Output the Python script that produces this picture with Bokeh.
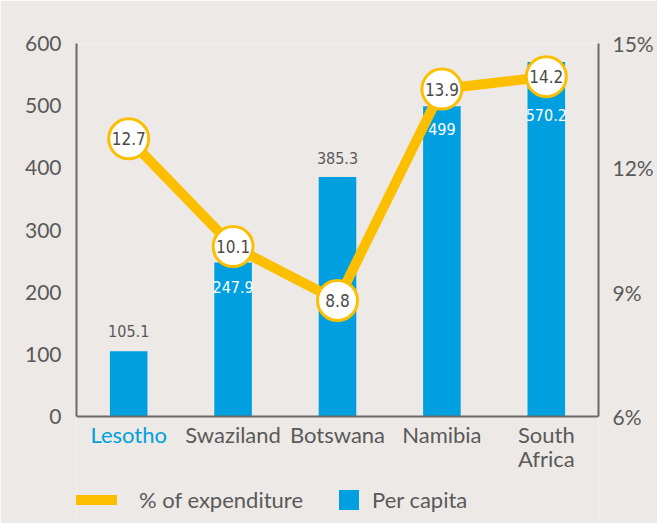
from bokeh.plotting import figure
from bokeh.models import (ColumnDataSource, FactorRange, Range1d, LinearAxis, FixedTicker,
                          PrintfTickFormatter, Legend, LegendItem, Span)
from bokeh.core.properties import value
from bokeh.embed import file_html
from bokeh.resources import INLINE

# ---- data ----
countries = ["Lesotho", "Swaziland", "Botswana", "Namibia", "South Africa"]
per_capita = [105.1, 247.9, 385.3, 499, 570.2]
pct_expenditure = [12.7, 10.1, 8.8, 13.9, 14.2]
left_ticks = [0, 100, 200, 300, 400, 500, 600]
right_ticks = [6, 9, 12, 15]
left_max, right_min, right_max = 600, 6, 15

# ---- styles / layout ----
BG = "#ede9e6"
BLUE = "#00a0e0"
YELLOW = "#fcbf00"
GRAY = "#5a5a5a"
AXIS = "#6b6b6b"
NARROW = "DejaVu Sans Condensed"

W, H = 657, 523
TOP, PLOT_H = 43, 373          # px from top to the 600 line, px height of the 0..600 band
FRAME_H = H - TOP              # frame reaches the bottom so texts below the axis are not clipped
ymin = -(FRAME_H - PLOT_H) * left_max / PLOT_H
pct_min = right_min + ymin / left_max * (right_max - right_min)

bar_label_color = [GRAY, "white", GRAY, "white", "white"]
bar_label_offset = [-20, 25, -19, 23, 53]
cat_label_color = [BLUE, GRAY, GRAY, GRAY, GRAY]

p = figure(width=W, height=H, x_range=FactorRange(*countries, range_padding=0),
           y_range=Range1d(ymin, left_max), output_backend="svg", toolbar_location=None,
           min_border_left=76, min_border_right=59, min_border_top=TOP, min_border_bottom=0)
p.extra_y_ranges = {"pct": Range1d(pct_min, right_max)}
p.background_fill_color = BG
p.border_fill_color = BG
p.outline_line_color = None
p.grid.grid_line_color = None
p.xaxis.visible = False

# left axis
la = p.yaxis[0]
la.ticker = FixedTicker(ticks=left_ticks)
la.bounds = (0, left_max)

# right axis
ra = LinearAxis(y_range_name="pct", ticker=FixedTicker(ticks=right_ticks),
                formatter=PrintfTickFormatter(format="%d%%"), bounds=(right_min, right_max))
p.add_layout(ra, "right")

for ax, standoff in [(la, 9), (ra, 8)]:
    ax.axis_line_color = AXIS
    ax.axis_line_width = 2
    ax.major_tick_line_color = None
    ax.minor_tick_line_color = None
    ax.major_label_text_font = "Lato"
    ax.major_label_text_font_size = "21px"
    ax.major_label_text_color = GRAY
    ax.major_label_standoff = standoff

# bottom axis line at 0
p.add_layout(Span(location=0, dimension="width", line_color=AXIS, line_width=2))

src = ColumnDataSource(dict(
    country=countries, per_capita=per_capita, pct=pct_expenditure,
    bar_text=[f"{v:g}" for v in per_capita], bar_color=bar_label_color,
    bar_off=bar_label_offset, pct_text=[f"{v:.1f}" for v in pct_expenditure],
    cat_text=[c.replace(" ", "\n") for c in countries], cat_color=cat_label_color,
    zero=[0] * len(countries),
))

bars = p.vbar(x="country", top="per_capita", bottom=0, width=0.36, source=src,
              fill_color=BLUE, line_color=None)
p.text(x="country", y="per_capita", text="bar_text", y_offset="bar_off", source=src,
       text_color="bar_color", text_font=value(NARROW), text_font_size="16px",
       text_align="center", text_baseline="middle")

line = p.line(x="country", y="pct", y_range_name="pct", source=src, line_color=YELLOW, line_width=10)
p.scatter(x="country", y="pct", y_range_name="pct", source=src, size=40,
          fill_color="white", line_color=YELLOW, line_width=3)
p.text(x="country", y="pct", text="pct_text", y_range_name="pct", source=src,
       text_color="#4a4a4a", text_font=value(NARROW), text_font_size="17px",
       text_align="center", text_baseline="middle")

# category labels
p.text(x="country", y="zero", text="cat_text", source=src, y_offset=4,
       text_color="cat_color", text_font=value("Lato"), text_font_size="22px",
       text_align="center", text_baseline="top", text_line_height=0.92)

leg_common = dict(glyph_height=25, label_height=25, padding=0, margin=0, border_line_color=None,
                  background_fill_alpha=0, label_text_font="Lato", label_text_font_size="22px",
                  label_text_color=GRAY)
leg1 = Legend(items=[LegendItem(label="% of expenditure", renderers=[line])],
              location=(-4, 10), glyph_width=45, label_standoff=22, **leg_common)
leg2 = Legend(items=[LegendItem(label="Per capita", renderers=[bars])],
              location=(260, 10), glyph_width=25, label_standoff=11, **leg_common)
p.add_layout(leg1)
p.add_layout(leg2)

open("out.html", "w").write(file_html(p, INLINE))
